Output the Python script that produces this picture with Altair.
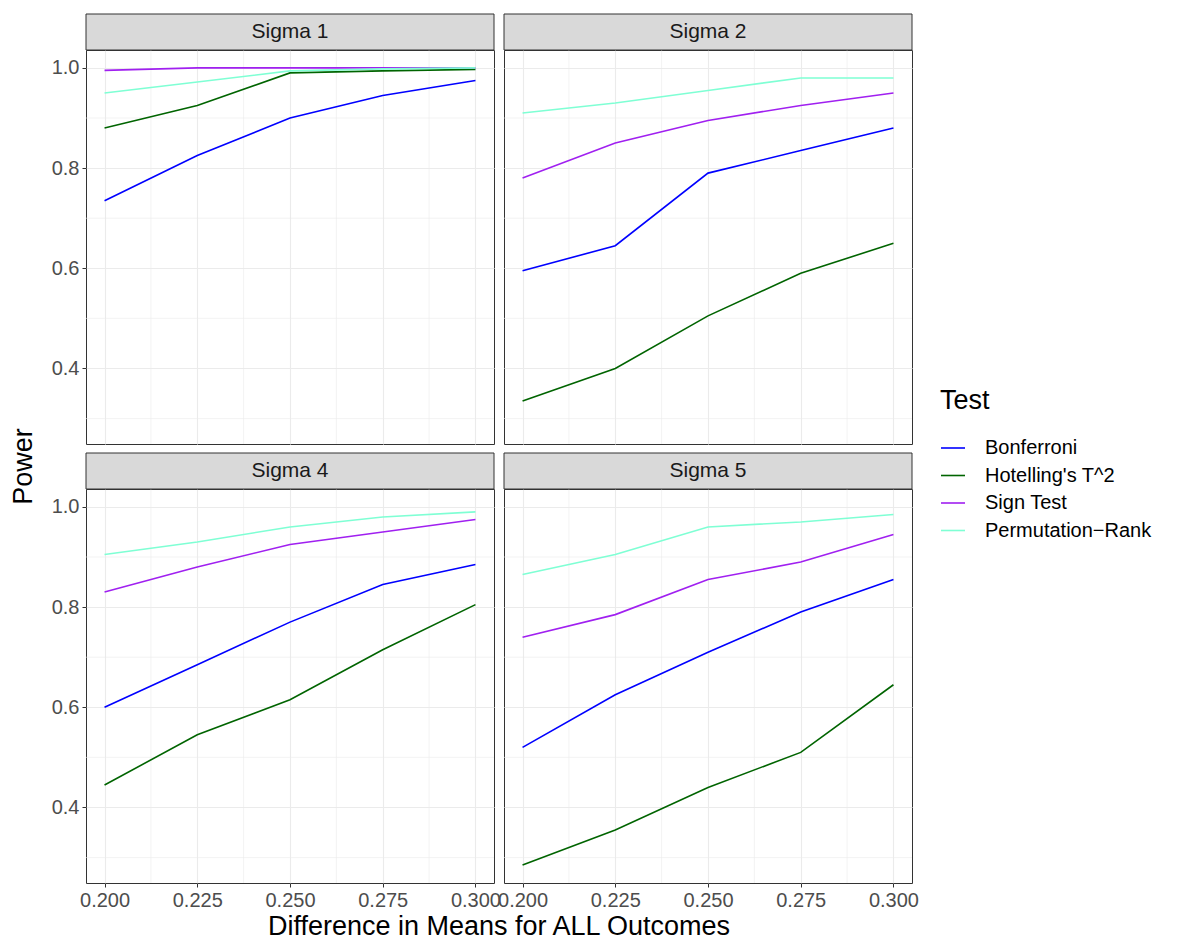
import altair as alt
import pandas as pd

# ---------------- data ----------------
x_vals = [0.200, 0.225, 0.250, 0.275, 0.300]
sigmas = ["Sigma 1", "Sigma 2", "Sigma 4", "Sigma 5"]
tests = ["Bonferroni", "Hotelling's T^2", "Sign Test", "Permutation\u2212Rank"]
colors = ["#0000FF", "#006400", "#A020F0", "#7FFFD4"]

s1_bonferroni = [0.735, 0.825, 0.900, 0.945, 0.975]
s1_hotelling = [0.880, 0.925, 0.990, 0.994, 0.997]
s1_sign = [0.995, 1.000, 1.000, 1.000, 1.000]
s1_perm = [0.950, 0.972, 0.994, 0.998, 1.000]

s2_bonferroni = [0.595, 0.645, 0.790, 0.835, 0.880]
s2_hotelling = [0.335, 0.400, 0.505, 0.590, 0.650]
s2_sign = [0.780, 0.850, 0.895, 0.925, 0.950]
s2_perm = [0.910, 0.930, 0.955, 0.980, 0.980]

s4_bonferroni = [0.600, 0.685, 0.770, 0.845, 0.885]
s4_hotelling = [0.445, 0.545, 0.615, 0.715, 0.805]
s4_sign = [0.830, 0.880, 0.925, 0.950, 0.975]
s4_perm = [0.905, 0.930, 0.960, 0.980, 0.990]

s5_bonferroni = [0.520, 0.625, 0.710, 0.790, 0.855]
s5_hotelling = [0.285, 0.355, 0.440, 0.510, 0.645]
s5_sign = [0.740, 0.785, 0.855, 0.890, 0.945]
s5_perm = [0.865, 0.905, 0.960, 0.970, 0.985]

x_major = [0.200, 0.225, 0.250, 0.275, 0.300]
x_minor = [0.2125, 0.2375, 0.2625, 0.2875]
y_major = [0.4, 0.6, 0.8, 1.0]
y_minor = [0.3, 0.5, 0.7, 0.9]

series = {
    "Sigma 1": [s1_bonferroni, s1_hotelling, s1_sign, s1_perm],
    "Sigma 2": [s2_bonferroni, s2_hotelling, s2_sign, s2_perm],
    "Sigma 4": [s4_bonferroni, s4_hotelling, s4_sign, s4_perm],
    "Sigma 5": [s5_bonferroni, s5_hotelling, s5_sign, s5_perm],
}

rows = []
for sig in sigmas:
    for t, vals in zip(tests, series[sig]):
        for xv, yv in zip(x_vals, vals):
            rows.append({"sigma": sig, "test": t, "diff": xv, "power": yv})
df = pd.DataFrame(rows)

FONT = "Liberation Sans"
W, H, SH = 408, 394, 36

xs = alt.Scale(domain=[0.195, 0.305], nice=False, zero=False)
ys = alt.Scale(domain=[0.24925, 1.03575], nice=False, zero=False)

color_enc = alt.Color(
    "test:N",
    scale=alt.Scale(domain=tests, range=colors),
    sort=tests,
    legend=alt.Legend(
        title="Test", orient="none", legendX=854, legendY=338,
        titleFontSize=27, titleFontWeight="normal", titleColor="black", titleFont=FONT,
        titlePadding=20,
        labelFontSize=20, labelColor="black", labelFont=FONT, labelOffset=19, labelLimit=400,
        symbolType="stroke", symbolSize=576, symbolStrokeWidth=1.6, rowPadding=4.5,
    ),
)


def panel(sig, left, bottom, ytitle=False, xtitle=False):
    d = df[df["sigma"] == sig]
    xaxis_kw = dict(values=x_major, format=".3f", labels=bottom, ticks=bottom, domain=False,
                    grid=True, labelFlush=False, labelOverlap=False)
    if xtitle:
        xaxis_kw.update(titleX=412.5, titleY=43, titleAnchor="middle", titleAlign="center",
                        titleBaseline="middle")
    yaxis_kw = dict(values=y_major, format=".1f", labels=left, ticks=left, domain=False, grid=True)
    if ytitle:
        yaxis_kw.update(titleX=-63, titleY=416, titleAngle=270, titleAlign="center",
                        titleBaseline="middle")
    xaxis = alt.Axis(**xaxis_kw)
    yaxis = alt.Axis(**yaxis_kw)
    xt = "Difference in Means for ALL Outcomes" if xtitle else None
    yt = "Power" if ytitle else None

    xminor = alt.Chart(pd.DataFrame({"xm": x_minor})).mark_rule(
        color="#EBEBEB", strokeWidth=0.6).encode(
        x=alt.X("xm:Q", scale=xs, axis=xaxis, title=xt))
    yminor = alt.Chart(pd.DataFrame({"ym": y_minor})).mark_rule(
        color="#EBEBEB", strokeWidth=0.6).encode(
        y=alt.Y("ym:Q", scale=ys, axis=yaxis, title=yt))
    lines = alt.Chart(d).mark_line(strokeWidth=1.6).encode(
        x=alt.X("diff:Q", scale=xs, axis=xaxis, title=xt),
        y=alt.Y("power:Q", scale=ys, axis=yaxis, title=yt),
        color=color_enc,
    )
    lab = alt.Data(values=[{"label": sig}])
    strip_bg = alt.Chart(lab).mark_rect(
        fill="#D9D9D9", stroke="#333333", strokeWidth=1).encode(
        x=alt.value(0), x2=alt.value(W), y=alt.value(-SH), y2=alt.value(0))
    strip_tx = alt.Chart(lab).mark_text(
        font=FONT, fontSize=21, color="#1A1A1A", baseline="middle", align="center").encode(
        text="label:N", x=alt.value(W / 2), y=alt.value(-SH / 2))
    return alt.layer(xminor, yminor, lines, strip_bg, strip_tx).properties(width=W, height=H)


chart = alt.concat(
    panel("Sigma 1", True, False, ytitle=True),
    panel("Sigma 2", False, False),
    panel("Sigma 4", True, True, xtitle=True),
    panel("Sigma 5", False, True),
    columns=2, spacing={"row": 45, "column": 10}, bounds="flush",
).configure(
    font=FONT, padding={"left": 0, "top": 5, "right": 5, "bottom": 5}
).configure_view(
    stroke="#333333", strokeWidth=1, fill="white"
).configure_axis(
    labelFont=FONT, labelFontSize=20, labelColor="#4D4D4D", labelPadding=3,
    tickColor="#333333", tickSize=4, tickWidth=1,
    gridColor="#EBEBEB", gridWidth=1.1,
    titleFont=FONT, titleFontSize=27, titleFontWeight="normal", titleColor="black",
)

chart.save("out.html", embed_options={"renderer": "svg", "actions": False})
